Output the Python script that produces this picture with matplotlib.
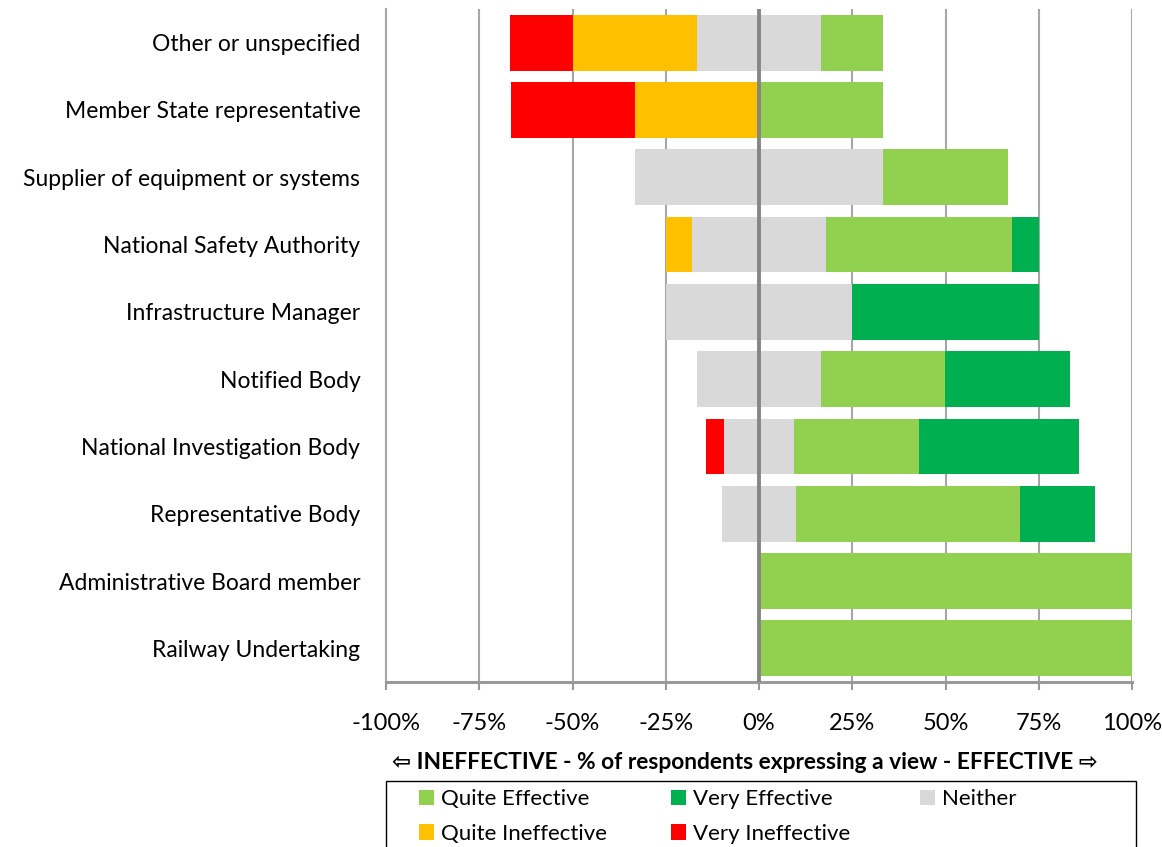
import matplotlib
matplotlib.use("Agg")
import matplotlib.pyplot as plt
from matplotlib.patches import Rectangle
import numpy as np

plt.rcParams['font.family'] = ['Lato', 'DejaVu Sans']

categories = ["Other or unspecified", "Member State representative",
              "Supplier of equipment or systems", "National Safety Authority",
              "Infrastructure Manager", "Notified Body",
              "National Investigation Body", "Representative Body",
              "Administrative Board member", "Railway Undertaking"]
very_ineffective = [16.7, 33.3, 0, 0, 0, 0, 4.8, 0, 0, 0]
quite_ineffective = [33.3, 33.3, 0, 7.1, 0, 0, 0, 0, 0, 0]
neither = [33.3, 0, 66.7, 35.7, 50.0, 33.3, 19.0, 20.0, 0, 0]
quite_effective = [16.7, 33.3, 33.3, 50.0, 0, 33.3, 33.3, 60.0, 100.0, 100.0]
very_effective = [0, 0, 0, 7.1, 50.0, 33.3, 42.9, 20.0, 0, 0]
tick_values = [-100, -75, -50, -25, 0, 25, 50, 75, 100]
tick_labels = ["-100%", "-75%", "-50%", "-25%", "0%", "25%", "50%", "75%", "100%"]

colors = {"Quite Effective": "#92D050", "Very Effective": "#00B050",
          "Neither": "#D9D9D9", "Quite Ineffective": "#FFC000",
          "Very Ineffective": "#FF0000"}

W, H = 1162, 847
fig = plt.figure(figsize=(W / 100, H / 100), dpi=100)
ax = fig.add_axes([386 / W, 1 - 682 / H, (1132 - 386) / W, (682 - 9) / H])

y = np.arange(len(categories))
vi = np.array(very_ineffective)
qi = np.array(quite_ineffective)
ne = np.array(neither)
qe = np.array(quite_effective)
ve = np.array(very_effective)

start = -(ne / 2 + qi + vi)
h = 0.83
handles = {}
left = start.copy()
for name, vals in [("Very Ineffective", vi), ("Quite Ineffective", qi),
                   ("Neither", ne), ("Quite Effective", qe), ("Very Effective", ve)]:
    b = ax.barh(y, vals, left=left, height=h, color=colors[name],
                edgecolor='none', zorder=3, label=name)
    handles[name] = b
    left = left + vals

ax.set_ylim(len(categories) - 0.5, -0.5)
ax.set_xlim(-100, 100)
ax.set_yticks(y)
ax.set_yticklabels(categories, fontsize=16.5)
ax.tick_params(axis='y', length=0, pad=18.5)
ax.set_xticks(tick_values)
ax.set_xticklabels(tick_labels, fontsize=17)
ax.tick_params(axis='x', length=6, width=1.5, color='#999999', pad=16.5, direction='out')

for v in tick_values:
    if v == 0:
        ax.axvline(v, color='#868686', lw=2.8, zorder=4)
    elif v != -100:
        ax.axvline(v, color='#A6A6A6', lw=1.5, zorder=1)

for s in ['top', 'right']:
    ax.spines[s].set_visible(False)
ax.spines['left'].set_color('#A6A6A6')
ax.spines['left'].set_linewidth(1.5)
ax.spines['bottom'].set_color('#999999')
ax.spines['bottom'].set_linewidth(2.2)

ax.set_xlabel("\u21e6 INEFFECTIVE - % of respondents expressing a view - EFFECTIVE \u21e8",
              fontsize=16.4, fontweight='bold', va='center')
ax.xaxis.set_label_coords((744.5 - 386) / (1132 - 386), (682 - 762) / (682 - 9))

# legend frame (extends past the bottom of the figure)
fig.patches.append(Rectangle((386 / W, -0.1), (1136 - 386) / W, (1 - 781 / H) + 0.1,
                             transform=fig.transFigure, fill=False,
                             edgecolor='black', lw=1.0, zorder=5))

legend_cols = [(["Quite Effective", "Quite Ineffective"], 419),
               (["Very Effective", "Very Ineffective"], 671),
               (["Neither"], 920)]
for names, xpx in legend_cols:
    lg = fig.legend([handles[k] for k in names], names, loc='upper left',
                    bbox_to_anchor=(xpx / W, 1 - 789 / H), frameon=False,
                    fontsize=16, handlelength=0.68, handleheight=0.68,
                    handletextpad=0.32, borderaxespad=0, borderpad=0,
                    labelspacing=0.66)

fig.savefig("out.png", dpi=100)
